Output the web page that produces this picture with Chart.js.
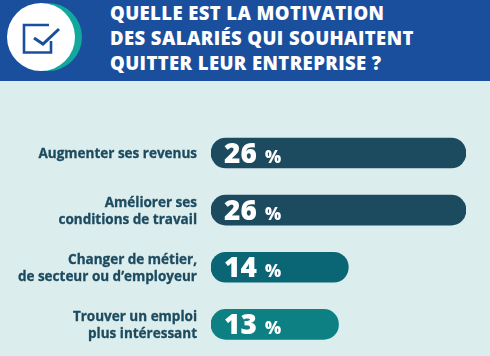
<!DOCTYPE html>
<html lang="fr">
<head>
<meta charset="utf-8">
<title>Motivation des salariés</title>
<script src="https://cdn.jsdelivr.net/npm/chart.js@4/dist/chart.umd.min.js"></script>
<style>
    html, body { margin: 0; padding: 0; }
    body { width: 490px; height: 356px; overflow: hidden; background: #dcedee; position: relative; font-family: "Open Sans", sans-serif; }
    #header { position: absolute; left: 0; top: 0; width: 490px; height: 81px; background: #1a4f9e; }
    #title { position: absolute; left: 110px; top: 0; margin: 0; color: #fff; font-size: 18.5px; line-height: 25px; font-weight: 800; letter-spacing: 0.4px; white-space: nowrap; }
    #badge { position: absolute; left: 7px; top: 3px; width: 76px; height: 68px; }
    #chartBox { position: absolute; left: 0; top: 0; width: 490px; height: 356px; }
</style>
</head>
<body>
<div id="header">
    <svg id="badge" viewBox="0 0 76 68">
        <circle cx="41" cy="34" r="34" fill="#12a89d"/>
        <circle cx="34" cy="34" r="34" fill="#fff"/>
        <path d="M42 22 H17 V49.5 H44 V38" fill="none" stroke="#1a4f9e" stroke-width="2.6"/>
        <path d="M27 35 L36 41 L52 26" fill="none" stroke="#1a4f9e" stroke-width="3"/>
    </svg>
    <h1 id="title">QUELLE EST LA MOTIVATION<br>DES SALARIÉS QUI SOUHAITENT<br>QUITTER LEUR ENTREPRISE ?</h1>
</div>
<div id="chartBox"><canvas id="motivationChart" width="490" height="356"></canvas></div>
<script>
const categories = [
    'Augmenter ses revenus',
    ['Améliorer ses', 'conditions de travail'],
    ['Changer de métier,', 'de secteur ou d’employeur'],
    ['Trouver un emploi', 'plus intéressant']
];
const values = [26, 26, 14, 13];
const barColors = ['#1c4a5e', '#1c4a5e', '#0a6675', '#0c8083'];

// draws the "26 %" labels inside the bars
const valueLabels = {
    id: 'valueLabels',
    afterDatasetsDraw(chart) {
        const { ctx } = chart;
        chart.getDatasetMeta(0).data.forEach((bar, i) => {
            ctx.save();
            ctx.fillStyle = '#fff';
            ctx.textBaseline = 'alphabetic';
            ctx.font = '800 28px "Open Sans"';
            ctx.fillText(String(values[i]), 224, bar.y + 10);
            ctx.font = '800 17px "Open Sans"';
            ctx.fillText('%', 265, bar.y + 10);
            ctx.restore();
        });
    }
};

new Chart(document.getElementById('motivationChart'), {
    type: 'bar',
    data: {
        labels: categories,
        datasets: [{
            data: values,
            backgroundColor: barColors,
            borderRadius: 15,
            borderSkipped: false,
            barThickness: 30
        }]
    },
    options: {
        indexAxis: 'y',
        responsive: false,
        animation: false,
        layout: { padding: { top: 124.4, bottom: 3, right: 24, left: 0 } },
        plugins: { legend: { display: false }, tooltip: { enabled: false } },
        scales: {
            x: { display: false, min: 0, max: 26 },
            y: {
                afterFit(scale) {
                    scale.width = 211;
                    scale.paddingTop = 0;
                    scale.paddingBottom = 0;
                },
                grid: { display: false, drawTicks: false },
                border: { display: false },
                ticks: {
                    color: '#1c4a5e',
                    padding: 14,
                    labelOffset: 1.5,
                    textStrokeColor: '#1c4a5e',
                    textStrokeWidth: 0.3,
                    font: { family: '"Open Sans"', size: 13.5, weight: '700', lineHeight: 1.25 }
                }
            }
        }
    },
    plugins: [valueLabels]
});
</script>
</body>
</html>
